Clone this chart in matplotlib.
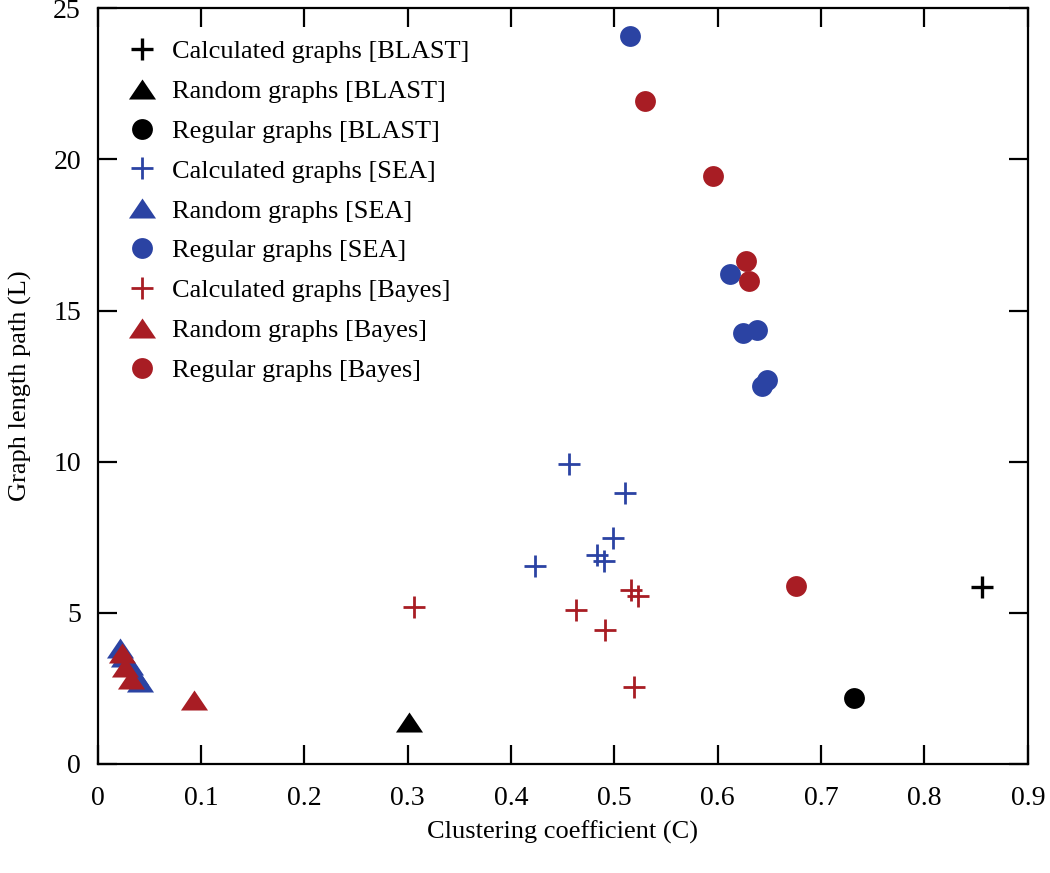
import matplotlib
matplotlib.use("Agg")
import matplotlib.pyplot as plt
import numpy as np

plt.rcParams['font.family'] = ['Liberation Serif', 'DejaVu Serif']

# BLAST
blast_calc_x = [0.856]
blast_calc_y = [5.87]
blast_rand_x = [0.301]
blast_rand_y = [1.40]
blast_reg_x = [0.732]
blast_reg_y = [2.18]

# SEA
sea_calc_x = [0.456, 0.510, 0.499, 0.483, 0.490, 0.423]
sea_calc_y = [9.93, 8.98, 7.49, 6.92, 6.73, 6.56]
sea_rand_x = [0.022, 0.026, 0.031, 0.036, 0.041]
sea_rand_y = [3.83, 3.55, 3.26, 2.95, 2.71]
sea_reg_x = [0.515, 0.612, 0.624, 0.638, 0.643, 0.648]
sea_reg_y = [24.10, 16.21, 14.26, 14.37, 12.49, 12.72]

# Bayes
bayes_calc_x = [0.306, 0.463, 0.516, 0.523, 0.491, 0.519]
bayes_calc_y = [5.18, 5.09, 5.76, 5.57, 4.44, 2.56]
bayes_rand_x = [0.0235, 0.027, 0.032, 0.093]
bayes_rand_y = [3.67, 3.22, 2.80, 2.10]
bayes_reg_x = [0.530, 0.595, 0.627, 0.630, 0.676]
bayes_reg_y = [21.95, 19.45, 16.63, 15.97, 5.89]

black = '#000000'
blue = '#2B43A3'
red = '#A81D24'

tri = [(0, 0.74), (-1, -0.74), (1, -0.74), (0, 0.74)]

fig = plt.figure(figsize=(10.5, 8.73), dpi=100)
ax = fig.add_axes([0.0929, 0.1249, 0.886, 0.8655])

def series(xs, ys, kind, color, label):
    if kind == 'calc':
        mw = 2.4 if color == black else 2.0
        ax.plot(xs, ys, ls='none', marker='+', ms=16, mew=mw, color=color, label=label)
    elif kind == 'rand':
        ax.plot(xs, ys, ls='none', marker=tri, ms=19.5, mew=0, color=color, label=label)
    else:
        ax.plot(xs, ys, ls='none', marker='o', ms=15, mew=0, color=color, label=label)

series(blast_calc_x, blast_calc_y, 'calc', black, 'Calculated graphs [BLAST]')
series(blast_rand_x, blast_rand_y, 'rand', black, 'Random graphs [BLAST]')
series(blast_reg_x, blast_reg_y, 'reg', black, 'Regular graphs [BLAST]')
series(sea_calc_x, sea_calc_y, 'calc', blue, 'Calculated graphs [SEA]')
series(sea_rand_x, sea_rand_y, 'rand', blue, 'Random graphs [SEA]')
series(sea_reg_x, sea_reg_y, 'reg', blue, 'Regular graphs [SEA]')
series(bayes_calc_x, bayes_calc_y, 'calc', red, 'Calculated graphs [Bayes]')
series(bayes_rand_x, bayes_rand_y, 'rand', red, 'Random graphs [Bayes]')
series(bayes_reg_x, bayes_reg_y, 'reg', red, 'Regular graphs [Bayes]')

ax.set_xlim(0, 0.9)
ax.set_ylim(0, 25)
ax.set_xticks(np.arange(0, 0.91, 0.1))
ax.set_xticklabels(['0', '0.1', '0.2', '0.3', '0.4', '0.5', '0.6', '0.7', '0.8', '0.9'])
ax.set_yticks([0, 5, 10, 15, 20, 25])
ax.tick_params(direction='in', length=14, width=1.6, top=True, right=True,
               labelsize=20, pad=12)
ax.tick_params(axis='x', pad=16)
for s in ax.spines.values():
    s.set_linewidth(1.6)

ax.set_xlabel('Clustering coefficient (C)', fontsize=19, labelpad=7)
ax.set_ylabel('Graph length path (L)', fontsize=19, labelpad=15)

ax.legend(loc='upper left', bbox_to_anchor=(0.008, 0.983), frameon=False,
          fontsize=19, labelspacing=0.62, handletextpad=0.45, borderaxespad=0.3,
          handlelength=1.4)

fig.savefig('out.png', dpi=100)
